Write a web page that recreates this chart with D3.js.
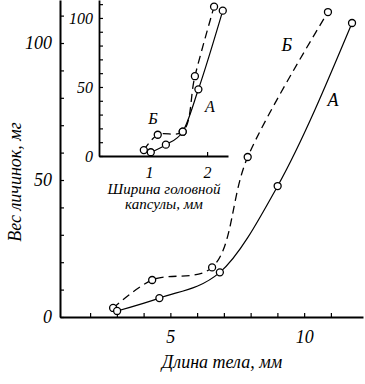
<!DOCTYPE html>
<html><head><meta charset="utf-8">
<script src="https://cdn.jsdelivr.net/npm/d3@7/dist/d3.min.js"></script>
<style>
body{margin:0;background:#fff;}
text{font-family:"Liberation Serif","DejaVu Serif",serif;font-style:italic;fill:#000;}
</style></head>
<body>
<script>
// ---- main chart data: body length (mm) vs larva weight (mg)
const mainLenA = [3.01, 4.59, 6.85, 9.01, 11.79];
const mainWtA  = [2.2, 6.9, 16.3, 47.8, 107.3];
const mainLenB = [2.86, 4.32, 6.56, 7.89, 10.89];
const mainWtB  = [3.3, 13.5, 18.1, 58.4, 111.3];
const mainXTicks = [2,3,4,5,6,7,8,9,10,11];
const mainXLabels = [5,10];
const mainYTicks = [0,10,20,30,40,50,60,70,80,90,100,110];
const mainYLabels = [0,50,100];
// ---- inset data: head capsule width (mm) vs larva weight (mg)
const insLenA = [1.03, 1.29, 1.58, 1.85, 2.27];
const insWtA  = [2.7, 8.2, 17.6, 48.3, 105.3];
const insLenB = [0.91, 1.15, 1.58, 1.79, 2.12];
const insWtB  = [4.3, 15.4, 17.6, 57.8, 108.2];
const insXTicks = [1,2];
const insYTicks = [0,10,20,30,40,50,60,70,80,90,100,110];
const insYLabels = [0,50,100];
const seriesNames = ["А","Б"];

const W=365,H=384;
const svg=d3.select("body").append("svg").attr("width",W).attr("height",H);
svg.append("rect").attr("width",W).attr("height",H).attr("fill","#fff");

function drawPanel(g, o){
  const x=d3.scaleLinear().domain(o.xd).range(o.xr);
  const y=d3.scaleLinear().domain(o.yd).range(o.yr);
  const xa=g.append("g").attr("transform",`translate(0,${o.yr[0]})`)
    .call(d3.axisBottom(x).tickValues(o.xTicks).tickSize(-o.tick).tickSizeOuter(0)
      .tickPadding(o.xPad).tickFormat(d=>o.xLabels.includes(d)?d:""));
  const ya=g.append("g").attr("transform",`translate(${o.xr[0]},0)`)
    .call(d3.axisLeft(y).tickValues(o.yTicks).tickSize(-o.tick).tickSizeOuter(0)
      .tickPadding(o.yPad).tickFormat(d=>o.yLabels.includes(d)?d:""));
  [xa,ya].forEach(a=>{
    a.select(".domain").attr("stroke","#000").attr("stroke-width",o.axisW);
    a.selectAll(".tick line").attr("stroke","#000").attr("stroke-width",1.2);
    a.selectAll("text").attr("font-size",o.fs).attr("font-family","Liberation Serif").attr("font-style","italic");
  });
  const lineA=d3.line().x(d=>x(d[0])).y(d=>y(d[1])).curve(d3.curveMonotoneX);
  const lineB=d3.line().x(d=>x(d[0])).y(d=>y(d[1])).curve(d3.curveCatmullRom.alpha(0.5));
  const A=o.lenA.map((v,i)=>[v,o.wtA[i]]);
  const B=o.lenB.map((v,i)=>[v,o.wtB[i]]);
  g.append("path").attr("d",lineB(B)).attr("fill","none").attr("stroke","#000")
    .attr("stroke-width",1.3).attr("stroke-dasharray","8,5");
  g.append("path").attr("d",lineA(A)).attr("fill","none").attr("stroke","#000")
    .attr("stroke-width",1.2);
  [B,A].forEach(s=>g.selectAll(null).data(s).enter().append("circle")
    .attr("cx",d=>x(d[0])).attr("cy",d=>y(d[1])).attr("r",3.5)
    .attr("fill","#fff").attr("stroke","#000").attr("stroke-width",1.3));
  return {x,y};
}

// main panel
const gm=svg.append("g");
const m=drawPanel(gm,{xd:[0.875,12.2],xr:[60,363],yd:[0,115.7],yr:[317,0],
  xTicks:mainXTicks,xLabels:mainXLabels,yTicks:mainYTicks,yLabels:mainYLabels,
  lenA:mainLenA,wtA:mainWtA,lenB:mainLenB,wtB:mainWtB,tick:4,xPad:13,yPad:8,fs:18,axisW:2});
svg.append("text").attr("x",222).attr("y",368).attr("text-anchor","middle")
  .attr("font-size",18).text("Длина тела, мм");
svg.append("text").attr("transform","translate(21,182) rotate(-90)").attr("text-anchor","middle")
  .attr("font-size",18).text("Вес личинок, мг");
svg.append("text").attr("x",m.x(9.35)).attr("y",m.y(97)).attr("text-anchor","middle").attr("font-size",18).text(seriesNames[1]);
svg.append("text").attr("x",m.x(11.08)).attr("y",m.y(77)).attr("text-anchor","middle").attr("font-size",18).text(seriesNames[0]);

// inset panel
const gi=svg.append("g");
const n=drawPanel(gi,{xd:[0.138,2.36],xr:[99,228],yd:[0,113],yr:[156,0],
  xTicks:insXTicks,xLabels:insXTicks,yTicks:insYTicks,yLabels:insYLabels,
  lenA:insLenA,wtA:insWtA,lenB:insLenB,wtB:insWtB,tick:4,xPad:11,yPad:6,fs:16,axisW:1.8});
svg.append("text").attr("x",164).attr("y",194).attr("text-anchor","middle")
  .attr("font-size",15).text("Ширина головной");
svg.append("text").attr("x",164).attr("y",209).attr("text-anchor","middle")
  .attr("font-size",15).text("капсулы, мм");
svg.append("text").attr("x",n.x(1.068)).attr("y",n.y(23)).attr("text-anchor","middle").attr("font-size",16).text(seriesNames[1]);
svg.append("text").attr("x",n.x(2.05)).attr("y",n.y(32)).attr("text-anchor","middle").attr("font-size",16).text(seriesNames[0]);
</script>
</body></html>
